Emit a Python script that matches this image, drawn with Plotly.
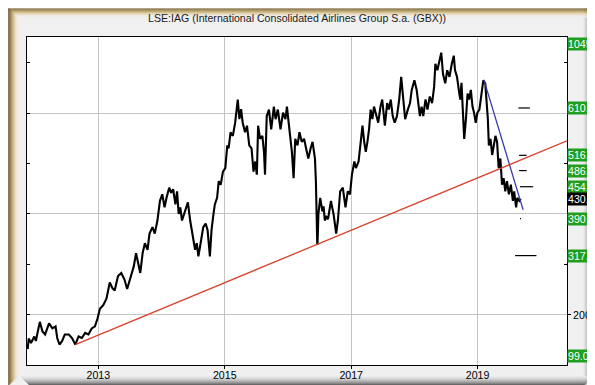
import pandas as pd
import plotly.graph_objects as go

# ---------------- data ----------------
price_years = [
    2011.883, 2011.899, 2011.935, 2011.988, 2012.012, 2012.075, 2012.117, 2012.159, 2012.221, 2012.273,
    2012.324, 2012.350, 2012.386, 2012.428, 2012.470, 2012.533, 2012.584, 2012.636, 2012.688, 2012.740,
    2012.791, 2012.844, 2012.896, 2012.947, 2012.989, 2013.025, 2013.078, 2013.129, 2013.181, 2013.218,
    2013.259, 2013.312, 2013.363, 2013.414, 2013.456, 2013.508, 2013.561, 2013.597, 2013.632, 2013.664,
    2013.701, 2013.737, 2013.779, 2013.810, 2013.857, 2013.893, 2013.935, 2013.975, 2014.012, 2014.048,
    2014.079, 2014.121, 2014.153, 2014.184, 2014.220, 2014.246, 2014.271, 2014.297, 2014.324, 2014.375,
    2014.417, 2014.453, 2014.480, 2014.505, 2014.531, 2014.558, 2014.583, 2014.609, 2014.660, 2014.698,
    2014.729, 2014.765, 2014.791, 2014.816, 2014.843, 2014.879, 2014.905, 2014.936, 2014.972, 2015.009,
    2015.040, 2015.061, 2015.092, 2015.128, 2015.165, 2015.206, 2015.232, 2015.259, 2015.284, 2015.321,
    2015.352, 2015.388, 2015.424, 2015.455, 2015.481, 2015.508, 2015.528, 2015.559, 2015.595, 2015.621,
    2015.637, 2015.664, 2015.699, 2015.735, 2015.777, 2015.804, 2015.840, 2015.882, 2015.922, 2015.960,
    2015.984, 2016.011, 2016.037, 2016.062, 2016.089, 2016.115, 2016.151, 2016.182, 2016.218, 2016.255,
    2016.287, 2016.322, 2016.358, 2016.389, 2016.427, 2016.442, 2016.463, 2016.467, 2016.482, 2016.500,
    2016.510, 2016.545, 2016.564, 2016.583, 2016.607, 2016.634, 2016.670, 2016.680, 2016.700, 2016.721,
    2016.763, 2016.790, 2016.826, 2016.868, 2016.910, 2016.946, 2016.981, 2017.012, 2017.050, 2017.075,
    2017.117, 2017.153, 2017.179, 2017.206, 2017.231, 2017.257, 2017.283, 2017.308, 2017.335, 2017.361,
    2017.397, 2017.428, 2017.464, 2017.491, 2017.533, 2017.569, 2017.595, 2017.626, 2017.657, 2017.688,
    2017.724, 2017.760, 2017.791, 2017.818, 2017.854, 2017.896, 2017.931, 2017.958, 2018.000, 2018.036,
    2018.062, 2018.087, 2018.114, 2018.140, 2018.176, 2018.207, 2018.243, 2018.280, 2018.312, 2018.332,
    2018.363, 2018.399, 2018.425, 2018.452, 2018.488, 2018.519, 2018.555, 2018.592, 2018.623, 2018.643,
    2018.674, 2018.710, 2018.726, 2018.745, 2018.763, 2018.788, 2018.815, 2018.841, 2018.866, 2018.893,
    2018.919, 2018.944, 2018.970, 2018.997, 2019.028, 2019.059, 2019.090, 2019.121, 2019.142, 2019.162,
    2019.178, 2019.204, 2019.231, 2019.255, 2019.282, 2019.308, 2019.333, 2019.360, 2019.386, 2019.411,
    2019.438, 2019.464, 2019.495, 2019.526, 2019.558, 2019.578, 2019.609, 2019.629, 2019.660, 2019.682,
]
price_values = [
    132, 153, 144, 157, 148, 186, 167, 161, 183, 173,
    177, 154, 141, 148, 161, 161, 154, 141, 157, 154,
    164, 161, 173, 177, 193, 212, 219, 232, 264, 254,
    248, 277, 283, 270, 251, 274, 296, 322, 303, 283,
    322, 342, 329, 361, 374, 361, 387, 426, 439, 413,
    432, 452, 442, 449, 419, 445, 400, 413, 387, 406,
    423, 387, 368, 348, 329, 342, 316, 335, 374, 381,
    368, 316, 368, 394, 419, 432, 465, 458, 484, 491,
    536, 530, 562, 555, 581, 627, 588, 608, 581, 562,
    575, 536, 530, 484, 504, 478, 575, 549, 555, 523,
    478, 594, 607, 568, 613, 588, 607, 568, 601, 588,
    613, 581, 549, 523, 471, 549, 536, 562, 543, 549,
    530, 510, 530, 543, 510, 465, 342, 339, 400, 419,
    432, 405, 415, 387, 394, 390, 426, 426, 413, 400,
    361, 387, 445, 452, 413, 445, 439, 478, 504, 491,
    504, 549, 575, 543, 523, 543, 568, 607, 588, 613,
    594, 581, 613, 627, 575, 620, 607, 627, 594, 581,
    594, 627, 672, 633, 588, 607, 620, 646, 665, 646,
    620, 594, 613, 594, 627, 607, 633, 620, 652, 698,
    685, 704, 720, 678, 659, 685, 672, 698, 714, 685,
    672, 639, 627, 660, 601, 549, 588, 639, 627, 646,
    613, 601, 581, 601, 607, 639, 665, 659, 627, 588,
    536, 549, 517, 536, 555, 543, 491, 510, 458, 471,
    445, 465, 439, 458, 426, 445, 413, 432, 426, 430,
]

support_years = [2012.636, 2020.414]
support_values = [141, 545]

resist_years = [2019.100, 2019.720]
resist_values = [666, 408]

target_levels = [610.2, 516.3, 486.0, 454.0, 390.7, 317.4]
target_starts = [2019.645, 2019.656, 2019.656, 2019.671, 2019.671, 2019.593]
target_ends = [2019.827, 2019.776, 2019.776, 2019.879, 2019.687, 2019.931]

label_values = [610.2, 516.3, 486.0, 454.0, 430.1, 390.7, 317.4]
label_texts = ["610.2", "516.3", "486.0", "454.0", "430.1", "390.7", "317.4"]
top_label = "1045"
bottom_label = "99.05"

year_ticks = [2013, 2015, 2017, 2019]
price_ticks = [200, 400, 600]
price_tick_text = ["200", "", ""]
price_minor_ticks = [100, 300, 500, 700]
x_range_years = [2011.872, 2020.414]
y_range = [100.4, 751]

title_text = "LSE:IAG (International Consolidated Airlines Group S.a. (GBX))"


def to_date(yrs):
    base = pd.Timestamp("2013-01-01")
    return [base + pd.to_timedelta((y - 2013) * 365.25, unit="D") for y in yrs]


# ---------------- geometry ----------------
W, H = 595, 385
ML, MR, MT, MB = 19, 27, 29, 21
PW, PH = W - ML - MR, H - MT - MB


def px(x):
    return (x - ML) / PW


def py(y):
    return (H - MB - y) / PH


FONT = "Liberation Sans, Arial, sans-serif"

fig = go.Figure()

fig.add_trace(go.Scatter(
    x=to_date(price_years), y=price_values, mode="lines",
    line=dict(color="black", width=2.1), hoverinfo="skip", showlegend=False))

fig.add_trace(go.Scatter(
    x=to_date(support_years), y=support_values, mode="lines",
    line=dict(color="#d8402c", width=1.3), hoverinfo="skip", showlegend=False,
    yaxis="y2"))

fig.add_trace(go.Scatter(
    x=to_date(resist_years), y=resist_values, mode="lines",
    line=dict(color="#3a3aa8", width=1.3), hoverinfo="skip", showlegend=False))

for lv, s, e in zip(target_levels, target_starts, target_ends):
    fig.add_trace(go.Scatter(
        x=to_date([s, e]), y=[lv, lv], mode="lines",
        line=dict(color="black", width=1.2), hoverinfo="skip", showlegend=False))

# ---------------- frame ----------------
shapes = []


def rect(x0, y0, x1, y1, color):
    shapes.append(dict(type="rect", xref="paper", yref="paper",
                       x0=px(x0), x1=px(x1), y0=py(y1), y1=py(y0),
                       fillcolor=color, line=dict(width=0), layer="below"))


right_cols = ["#ececec", "#e2e2e2", "#d6d6d6", "#c6c6c6", "#b2b2b2", "#9c9c9c",
              "#888888", "#7c7c7c", "#8a8a8a", "#a4a4a4", "#bcbcbc"]
for i, c in enumerate(right_cols):
    rect(584 + i, 0, 585 + i, H, c)
bottom_cols = ["#ececec", "#e4e4e4", "#d8d8d8", "#c8c8c8", "#b6b6b6", "#a2a2a2",
               "#8e8e8e", "#767676", "#555555", "#2e2e2e"]
for i, c in enumerate(bottom_cols):
    rect(12 + i, 375 + i, W - i, 376 + i, c)
top_cols = ["#6a5420", "#86692c", "#a2833e", "#bc9e5c", "#d2b884", "#e2d0a8",
            "#ebe0c6", "#f0eadc", "#f0eeea"]
for i, c in enumerate(top_cols):
    rect(i, i, W, i + 1, c)
left_cols = ["#5a4418", "#72572a", "#8e6e36", "#a8884a", "#bea262", "#d0b880",
             "#dec9a0", "#e8dabc", "#eee6d2", "#f1ece2", "#f1efea", "#f0f0f0"]
for i, c in enumerate(left_cols):
    rect(i, i, i + 1, H - i, c)

# ---------------- labels ----------------
annotations = []
LBL = dict(family=FONT, size=10.6, color="white")
for v, t in zip(label_values, label_texts):
    is_last = t.startswith("430")
    annotations.append(dict(
        x=px(568.5), xref="paper", xanchor="left", y=v, yref="y", yanchor="middle",
        text=t, showarrow=False, align="left", width=34,
        bgcolor="#000000" if is_last else "#1f9f1f", font=LBL, borderpad=0))
annotations.append(dict(
    x=px(568.5), xref="paper", xanchor="left", y=1, yref="paper", yanchor="top",
    text=top_label, showarrow=False, align="left", width=34, bgcolor="#1f9f1f",
    font=LBL, borderpad=0))
annotations.append(dict(
    x=px(568.5), xref="paper", xanchor="left", y=0.005, yref="paper", yanchor="bottom",
    text=bottom_label, showarrow=False, align="left", width=34, bgcolor="#1f9f1f",
    font=LBL, borderpad=0))

fig.update_layout(
    width=W, height=H,
    margin=dict(l=ML, r=MR, t=MT, b=MB, pad=0),
    paper_bgcolor="#f0f0f0", plot_bgcolor="white",
    title=dict(text=title_text, x=px(293.5), xref="paper", xanchor="center",
               y=1 - 10 / H, yref="container", yanchor="middle",
               font=dict(family=FONT, size=10.6, color="#1a1a1a")),
    font=dict(family=FONT, size=10.6, color="black"),
    shapes=shapes, annotations=annotations,
    xaxis=dict(
        range=to_date(x_range_years), type="date",
        tickvals=to_date(year_ticks), ticktext=[str(y) for y in year_ticks],
        showgrid=True, gridcolor="#c4c4c4", gridwidth=1,
        showline=True, linecolor="black", linewidth=1, mirror=True,
        ticks="outside", ticklen=3, tickcolor="black", ticklabelstandoff=-3,
        tickfont=dict(family=FONT, size=10.6, color="black"),
        zeroline=False, fixedrange=True),
    yaxis=dict(
        range=y_range, side="right", tickvals=price_ticks, ticktext=price_tick_text,
        showgrid=True, gridcolor="#c4c4c4", gridwidth=1,
        showline=True, linecolor="black", linewidth=1, mirror=True,
        ticks="outside", ticklen=3, tickcolor="black",
        minor=dict(tickvals=price_minor_ticks, ticks="inside", ticklen=3,
                   tickcolor="black", showgrid=False),
        tickfont=dict(family=FONT, size=10.6, color="black"),
        zeroline=False, fixedrange=True),
    yaxis2=dict(
        range=y_range, overlaying="y", side="left", tick0=0, dtick=100,
        showgrid=False, showticklabels=False, ticks="inside", ticklen=3,
        tickcolor="black", showline=False, zeroline=False, fixedrange=True),
)

fig.write_html("out.html")
